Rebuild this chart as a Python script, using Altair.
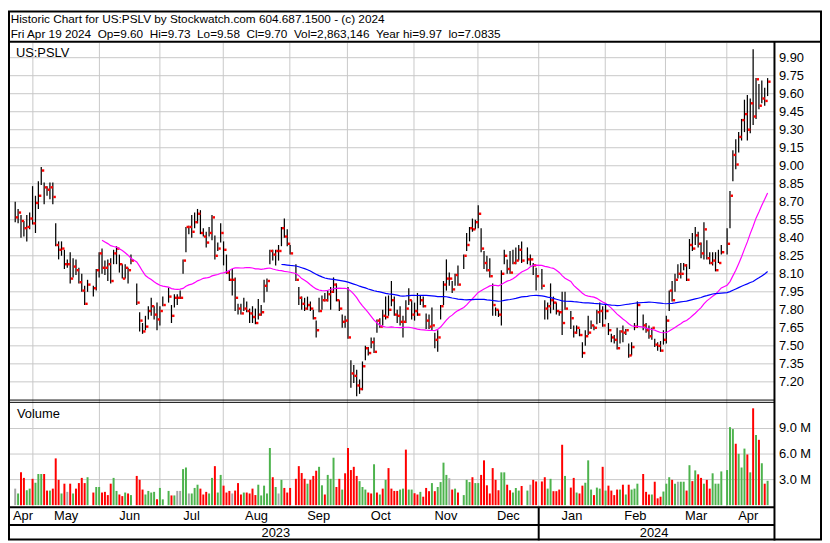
import altair as alt
import pandas as pd

# ---------------- data ----------------
# weekday index 0 = Fri 2023-04-21 ... 260 = Fri 2024-04-19 ; None = US market holiday
HIGH = (
    [8.70, 8.64, 8.59, 8.54, 8.59, 8.61]
    + [8.83, 8.75, 8.87, 8.99, 8.86, 8.83, 8.86, 8.86, 8.52, 8.37, 8.37, 8.30, 8.22, 8.28, 8.23, 8.22, 8.15, 8.10, 8.00, 8.05, None, 8.00, 8.14]
    + [8.28, 8.31, 8.21, 8.22, 8.23, 8.30, 8.33, 8.26, 8.18, 8.18, 8.15, 8.26, None, 8.02, 7.78, 7.69, 7.75, 7.83, 7.90, 7.83, 7.86, 7.83]
    + [7.91, None, 7.985, 7.84, 7.93, 7.93, 7.96, 8.22, 8.49, 8.50, 8.59, 8.61, 8.64, 8.63, 8.48, 8.45, 8.49, 8.59, 8.42, 8.36, 8.52]
    + [8.37, 8.26, 8.13, 8.14, 8.07, 7.85, 7.85, 7.90, 7.87, 7.81, 7.83, 7.81, 7.89, 7.84, 8.05, 8.06, 8.30, 8.30, 8.30, 8.34, 8.49, 8.56, 8.47]
    + [8.34, None, 8.18, 7.99, 7.91, 7.90, 7.91, 7.87, 7.80, 7.71, 7.90, 7.92, 7.94, 7.96, 7.99, 8.07, 8.02, 7.88, 7.76, 7.75, 7.99]
    + [7.38, 7.34, 7.30, 7.22, 7.37, 7.50, 7.49, 7.57, 7.57, 7.72, 7.73, 7.80, 7.91, 7.92, 8.04, 7.91, 7.80, 7.83, 7.75, 7.88, 7.98, 7.88]
    + [7.86, 7.94, 7.92, 7.91, 7.77, 7.76, 7.82, 7.61, 7.63, 7.84, 8.04, 8.22, 8.11, 8.04, 8.10, 8.17, None, 8.26, 8.44, 8.49, 8.56, 8.55]
    + [8.67, 8.48, 8.29, 8.25, 8.23, 8.02, 7.82, 7.80, 8.13, 8.30, 8.22, 8.29, 8.30, 8.32, 8.34, 8.37, None, 8.32, 8.26, 8.19, 8.15]
    + [None, 8.14, 7.88, 7.86, 8.02, 7.91, 7.86, 7.79, 7.95, 7.95, None, 7.79, 7.67, 7.67, 7.64, 7.53, 7.63, 7.75, 7.71, 7.67, 7.80, 7.86, 7.83]
    + [7.84, 7.69, 7.60, 7.59, 7.65, 7.63, 7.67, 7.64, 7.52, 7.53, 7.69, 7.87, None, 7.76, 7.69, 7.67, 7.65, 7.56, 7.53, 7.54, 7.63]
    + [7.75, 7.96, 8.04, 8.10, 8.18, 8.19, 8.19, 8.18, 8.39, 8.44, 8.49, 8.45, 8.36, 8.53, 8.38, 8.28, 8.28, 8.28, 8.30, 8.34, None]
    + [8.48, 8.79, 9.13, 9.22, 9.28, 9.39, 9.55, 9.59, 9.56, 9.97, 9.73, 9.68, 9.71, 9.65, 9.73]
)
LOW = (
    [8.53, 8.52, 8.40, 8.41, 8.37, 8.47]
    + [8.51, 8.44, 8.64, 8.84, 8.68, 8.75, 8.72, 8.68, 8.33, 8.22, 8.25, 8.14, 8.15, 8.02, 8.07, 8.09, 8.02, 7.95, 7.84, 7.95, None, 7.91, 7.96]
    + [8.07, 8.10, 8.09, 8.04, 8.02, 8.18, 8.18, 8.11, 8.06, 8.06, 8.02, 8.18, None, 7.84, 7.62, 7.60, 7.63, 7.72, 7.75, 7.72, 7.63, 7.67]
    + [7.83, None, 7.86, 7.69, 7.82, 7.84, 7.89, 8.10, 8.28, 8.43, 8.40, 8.48, 8.52, 8.43, 8.41, 8.32, 8.41, 8.38, 8.22, 8.29, 8.36]
    + [8.17, 8.10, 8.04, 7.92, 7.79, 7.76, 7.76, 7.79, 7.78, 7.69, 7.69, 7.68, 7.72, 7.75, 7.86, 7.95, 8.18, 8.21, 8.17, 8.21, 8.33, 8.40, 8.33]
    + [8.26, None, 8.04, 7.84, 7.80, 7.79, 7.80, 7.79, 7.72, 7.57, 7.78, 7.80, 7.87, 7.87, 7.80, 7.94, 7.87, 7.79, 7.65, 7.65, 7.56]
    + [7.15, 7.19, 7.08, 7.10, 7.13, 7.38, 7.42, 7.48, 7.44, 7.61, 7.65, 7.67, 7.72, 7.75, 7.83, 7.75, 7.69, 7.67, 7.57, 7.69, 7.84, 7.72]
    + [7.71, 7.75, 7.84, 7.82, 7.64, 7.64, 7.63, 7.48, 7.45, 7.72, 7.84, 7.96, 8.00, 7.94, 8.00, 8.00, None, 8.14, 8.29, 8.37, 8.45, 8.47]
    + [8.48, 8.28, 8.14, 8.12, 8.07, 7.75, 7.75, 7.74, 7.67, 8.18, 8.10, 8.10, 8.18, 8.18, 8.21, 8.19, None, 8.18, 8.17, 8.09, 7.96]
    + [None, 7.97, 7.72, 7.72, 7.77, 7.80, 7.76, 7.75, 7.59, 7.80, None, 7.64, 7.57, 7.60, 7.58, 7.40, 7.50, 7.59, 7.64, 7.63, 7.68, 7.69, 7.66]
    + [7.72, 7.59, 7.53, 7.52, 7.47, 7.52, 7.53, 7.59, 7.40, 7.42, 7.63, 7.65, None, 7.63, 7.61, 7.56, 7.55, 7.49, 7.46, 7.45, 7.51]
    + [7.52, 7.79, 7.87, 7.95, 8.06, 8.06, 8.13, 8.04, 8.14, 8.29, 8.34, 8.32, 8.23, 8.22, 8.22, 8.18, 8.17, 8.12, 8.19, 8.26, None]
    + [8.26, 8.48, 8.87, 8.97, 9.11, 9.21, 9.28, 9.21, 9.27, 9.34, 9.39, 9.47, 9.52, 9.50, 9.58]
)
CLOSE = (
    [8.57, 8.61, 8.54, 8.48, 8.49, 8.56]
    + [8.52, 8.69, 8.75, 8.96, 8.82, 8.80, 8.82, 8.74, 8.34, 8.30, 8.31, 8.18, 8.18, 8.06, 8.16, 8.13, 8.03, 7.96, 7.85, 8.01, None, 7.98, 8.13]
    + [8.27, 8.15, 8.15, 8.18, 8.04, 8.27, 8.31, 8.18, 8.06, 8.15, 8.13, 8.21, None, 7.86, 7.71, 7.62, 7.66, 7.79, 7.83, 7.76, 7.72, 7.79]
    + [7.84, None, 7.91, 7.75, 7.90, 7.90, 7.90, 8.21, 8.49, 8.49, 8.45, 8.53, 8.60, 8.44, 8.41, 8.36, 8.44, 8.57, 8.25, 8.31, 8.44]
    + [8.30, 8.11, 8.05, 8.05, 7.90, 7.81, 7.77, 7.81, 7.79, 7.77, 7.74, 7.69, 7.76, 7.78, 8.00, 8.04, 8.29, 8.26, 8.29, 8.29, 8.48, 8.41, 8.35]
    + [8.27, None, 8.05, 7.90, 7.85, 7.81, 7.84, 7.81, 7.73, 7.63, 7.79, 7.88, 7.88, 7.93, 7.95, 8.01, 7.88, 7.81, 7.70, 7.71, 7.57]
    + [7.27, 7.25, 7.17, 7.14, 7.33, 7.48, 7.44, 7.53, 7.45, 7.71, 7.66, 7.75, 7.74, 7.80, 7.88, 7.76, 7.75, 7.70, 7.70, 7.81, 7.88, 7.76]
    + [7.79, 7.76, 7.88, 7.83, 7.71, 7.66, 7.67, 7.55, 7.57, 7.83, 8.01, 8.06, 8.06, 7.97, 8.09, 8.01, None, 8.25, 8.34, 8.48, 8.47, 8.53]
    + [8.60, 8.31, 8.19, 8.13, 8.08, 7.84, 7.80, 7.76, 8.10, 8.25, 8.14, 8.11, 8.19, 8.21, 8.30, 8.21, None, 8.22, 8.22, 8.17, 8.08]
    + [None, 8.00, 7.81, 7.83, 7.88, 7.86, 7.79, 7.78, 7.69, 7.81, None, 7.73, 7.61, 7.65, 7.59, 7.44, 7.58, 7.61, 7.67, 7.65, 7.78, 7.79, 7.67]
    + [7.79, 7.63, 7.57, 7.55, 7.48, 7.62, 7.61, 7.63, 7.42, 7.49, 7.66, 7.84, None, 7.67, 7.63, 7.58, 7.65, 7.51, 7.50, 7.46, 7.55]
    + [7.71, 7.96, 7.88, 8.05, 8.10, 8.10, 8.17, 8.05, 8.34, 8.31, 8.42, 8.35, 8.27, 8.47, 8.23, 8.19, 8.21, 8.13, 8.19, 8.28, None]
    + [8.35, 8.75, 9.09, 9.01, 9.24, 9.38, 9.43, 9.30, 9.52, 9.41, 9.72, 9.50, 9.56, 9.54, 9.70]
)
VOLUME_M = (
    [1.94, 1.37, 3.85, 3.2, 1.75, 1.94]
    + [3.09, 2.63, 3.66, 3.66, 3.66, 1.71, 1.71, 1.94, 5.49, 2.97, 1.37, 2.52, 1.56, 2.52, 1.37, 1.94, 2.59, 3.2, 2.59, 3.28, None, 1.48, 2.13]
    + [2.13, 1.48, 1.56, 1.18, 2.52, 3.2, 1.67, 1.25, 1.06, 1.48, 1.37, 1.18, None, 3.43, 2.97, 1.83, 1.25, 1.67, 1.48, 1.56, 0.68, 2.02]
    + [0.68, None, 1.67, 1.14, 1.14, 1.67, 1.67, 4.23, 4.42, 1.37, 1.37, 2.02, 2.4, 1.94, 1.25, 1.56, 1.37, 3.2, 4.58, 1.48, 3.55]
    + [2.29, 1.48, 1.67, 1.37, 1.71, 2.59, 1.25, 1.48, 1.48, 1.37, 1.94, 1.18, 2.4, 1.14, 2.29, 1.37, 6.71, 3.28, 2.13, 1.37, 2.97, 2.02, 1.48]
    + [2.02, None, 3.09, 4.58, 3.77, 3.09, 2.52, 2.97, 3.43, 4.04, 4.5, 2.33, 1.25, 3.55, 3.09, 5.57, 2.13, 3.09, 1.83, 3.74, 6.71]
    + [4.12, 4.5, 3.43, 2.82, 2.13, 1.83, 1.48, 1.37, 4.8, 1.48, 1.25, 1.94, 2.97, 4.35, 1.94, 1.67, 1.67, 1.83, 1.94, 6.52, 1.83, 1.83]
    + [1.4, 1.25, 1.56, 0.99, 2.02, 1.64, 2.59, 1.64, 2.13, 2.71, 4.99, 3.55, 3.16, 1.83, 1.94, 1.48, None, 1.18, 2.97, 2.71, 3.28, 2.59]
    + [2.59, 3.55, 5.26, 2.33, 1.37, 4.35, 2.97, 1.75, 3.85, 3.85, 2.4, 1.75, 1.48, 2.02, 1.71, 2.25, None, 1.71, 2.4, 2.97, 2.78]
    + [None, 2.78, 3.28, 1.94, 3.09, 1.64, 1.64, 1.83, 7.09, 3.43, None, 2.06, 3.2, 1.48, 1.37, 2.29, 2.63, 5.26, 1.83, 1.18, 2.06, 1.94, 4.5]
    + [1.71, 2.29, 1.71, 1.18, 1.83, 1.83, 2.4, 1.25, 2.4, 1.83, 1.94, 2.52, None, 3.66, 1.56, 1.25, 1.25, 2.75, 0.8, 0.99, 1.6]
    + [2.52, 3.28, 2.97, 2.52, 2.75, 2.75, 2.75, 1.71, 4.69, 2.82, 4.08, 3.62, 3.2, 2.52, 2.97, 1.94, 3.74, 2.52, 2.52, 3.96, None]
    + [4.12, 9.16, 8.93, 7.21, 6.03, 4.42, 6.64, 5.95, 3.85, 11.37, 8.24, 7.67, 4.92, 2.52, 2.86]
)
# volume bar colour: r = red, g = green, n = grey (unchanged), - = holiday
VOL_DIR = (
    "ngrrgg"
    + "rgggrrgrrrgrnrgrrrrg-rg"
    + "grrrrggrrgrg-rrrggggrg"
    + "g-grgnnggngggrrrggrgg"
    + "rrrnrrrgrrrrgggggrgngrr"
    + "r-rrrrgrrrggrgggrrgrr"
    + "rrrgggrrgrgrgrrrrggrgg"
    + "rrgrrrgrggggnrgr-gggrg"
    + "grrrrrrrggrrgggr-gnrr"
    + "-rrggrrrrg-rrgrrgggrggr"
    + "grrrrgrgrggg-rrrgrrrg"
    + "ggrgnggrgrgrrgrrgggg-"
    + "gggrgggrgrgrgrg"
)

PRICE_TICKS = [7.20, 7.35, 7.50, 7.65, 7.80, 7.95, 8.10, 8.25, 8.40, 8.55,
               8.70, 8.85, 9.00, 9.15, 9.30, 9.45, 9.60, 9.75, 9.90]
VOL_TICKS = [3.0, 6.0, 9.0]
MONTHS = ["Apr", "May", "Jun", "Jul", "Aug", "Sep", "Oct", "Nov", "Dec", "Jan", "Feb", "Mar", "Apr"]
MONTH_START = [-0.78, 6.1, 29.1, 50.0, 71.9, 94.9, 114.8, 137.8, 159.9, 180.9, 203.9, 224.7, 245.9]
X_END = 260.66
YEARS = ["2023", "2024"]
YEAR_START = [-0.78, 180.9]
HEADER = [
    "Historic Chart for US:PSLV by Stockwatch.com 604.687.1500 - (c) 2024",
    "Fri Apr 19 2024  Op=9.60  Hi=9.73  Lo=9.58  Cl=9.70  Vol=2,863,146  Year hi=9.97  lo=7.0835",
]
SYMBOL = "US:PSLV"
VOL_TITLE = "Volume"

# ---------------- layout ----------------
W, H = 822, 535
PLOT_R = 774
FONT = "Liberation Sans"
LBL = 13
GRID = "#c8c8c8"
RED, GREEN, GREY = "#ff0000", "#4db34d", "#a6a6a6"
PRICE_DOMAIN, PRICE_RANGE = [7.059, 10.024], [392.0, 32.5]
VOL_DOMAIN, VOL_RANGE = [0, 12.14], [499.4, 395.0]

n = len(CLOSE)
assert len(HIGH) == n == len(LOW) == len(VOLUME_M) == len(VOL_DIR) == 261
rows = [dict(i=i, high=HIGH[i], low=LOW[i], close=CLOSE[i], vol=VOLUME_M[i], vdir=VOL_DIR[i])
        for i in range(n) if CLOSE[i] is not None]
df = pd.DataFrame(rows)

xs = alt.Scale(domain=[MONTH_START[0], X_END], range=[0, PLOT_R])
ps = alt.Scale(domain=PRICE_DOMAIN, range=PRICE_RANGE)
vs = alt.Scale(domain=VOL_DOMAIN, range=VOL_RANGE)
X = alt.X("i:Q", scale=xs, axis=None)

base = alt.Chart(df)
ONE = pd.DataFrame({"k": [0]})

# vertical month grid
vgrid = alt.Chart(pd.DataFrame({"b": MONTH_START[1:]})).mark_rule(color=GRID, strokeWidth=1).encode(
    x=alt.X("b:Q", scale=xs, axis=None), y=alt.value(32.5), y2=alt.value(501))

# price panel
pt = pd.DataFrame({"p": PRICE_TICKS})
grid_p = alt.Chart(pt).mark_rule(color=GRID, strokeWidth=1).encode(
    y=alt.Y("p:Q", scale=ps, axis=None), x=alt.value(0), x2=alt.value(PLOT_R))
lab_p = alt.Chart(pt).mark_text(align="left", baseline="middle", font=FONT, fontSize=LBL,
                                color="black").encode(
    y=alt.Y("p:Q", scale=ps, axis=None), x=alt.value(PLOT_R + 4.5), text=alt.Text("p:Q", format=".2f"))
hl = base.mark_rule(color="black", strokeWidth=1.25).encode(
    x=X, y=alt.Y("low:Q", scale=ps, axis=None), y2="high:Q")
cl = base.mark_square(size=6, color=RED, xOffset=1.8, opacity=1).encode(
    x=X, y=alt.Y("close:Q", scale=ps, axis=None))
ma30 = base.transform_window(ma="mean(close)", cnt="count()", frame=[-29, 0],
                             sort=[alt.SortField("i")]).transform_filter("datum.cnt >= 30").mark_line(
    color="#ff00ff", strokeWidth=1.2).encode(x=X, y=alt.Y("ma:Q", scale=ps, axis=None))
ma90 = base.transform_window(ma="mean(close)", cnt="count()", frame=[-89, 0],
                             sort=[alt.SortField("i")]).transform_filter("datum.cnt >= 90").mark_line(
    color="#0000ff", strokeWidth=1.2).encode(x=X, y=alt.Y("ma:Q", scale=ps, axis=None))
price = alt.layer(grid_p, lab_p, hl, cl, ma30, ma90)

# volume panel
vt = pd.DataFrame({"v": VOL_TICKS})
grid_v = alt.Chart(vt).mark_rule(color=GRID, strokeWidth=1).encode(
    y=alt.Y("v:Q", scale=vs, axis=None), x=alt.value(0), x2=alt.value(PLOT_R))
lab_v = alt.Chart(vt).transform_calculate(lbl="format(datum.v, '.1f') + ' M'").mark_text(
    align="left", baseline="middle", font=FONT, fontSize=LBL, color="black").encode(
    y=alt.Y("v:Q", scale=vs, axis=None), x=alt.value(PLOT_R + 4.5), text="lbl:N")
vbars = base.mark_bar(width=2).encode(
    x=X, y=alt.Y("vol:Q", scale=vs, axis=None),
    color=alt.Color("vdir:N", scale=alt.Scale(domain=["r", "g", "n"], range=[RED, GREEN, GREY]), legend=None))
volume = alt.layer(grid_v, lab_v, vbars)


def hline(y, x1, x2, w=1.0):
    return alt.Chart(ONE).mark_rule(color="black", strokeWidth=w).encode(
        x=alt.value(x1), x2=alt.value(x2), y=alt.value(y))


def vline(x, y1, y2, w=1.0):
    return alt.Chart(ONE).mark_rule(color="black", strokeWidth=w).encode(
        x=alt.value(x), y=alt.value(y1), y2=alt.value(y2))


frame_rect = alt.Chart(ONE).mark_rect(fillOpacity=0, stroke="black", strokeWidth=2).encode(
    x=alt.value(1), x2=alt.value(W - 1), y=alt.value(1), y2=alt.value(H - 1))
lines = [
    hline(31.5, 0, W, 2),
    hline(393.3, 0, PLOT_R, 1),
    hline(395.6, 0, PLOT_R, 1),
    hline(501.6, 0, PLOT_R, 2),
    hline(519.4, 0, PLOT_R, 2),
    vline(PLOT_R, 31.5, H, 2),
]
jan_line = alt.Chart(pd.DataFrame({"b": YEAR_START[1:]})).mark_rule(color="black", strokeWidth=2).encode(
    x=alt.X("b:Q", scale=xs, axis=None), y=alt.value(501.6), y2=alt.value(H))

hdr = alt.Chart(pd.DataFrame({"t": [h.replace("  ", " \u00a0") for h in HEADER], "y": [12.1, 27.4]})).mark_text(
    align="left", baseline="alphabetic", font=FONT, fontSize=11.9, color="black").encode(
    x=alt.value(2.7), y=alt.Y("y:Q", scale=None), text="t:N")
sym = alt.Chart(ONE).mark_text(align="left", baseline="alphabetic", font=FONT, fontSize=LBL,
                               color="black", text=SYMBOL).encode(x=alt.value(8.0), y=alt.value(46.5))
vtitle = alt.Chart(ONE).mark_text(align="left", baseline="alphabetic", font=FONT, fontSize=LBL,
                                  color="black", text=VOL_TITLE).encode(x=alt.value(9.0), y=alt.value(411.9))

ends = MONTH_START[1:] + [X_END]
mdf = pd.DataFrame({"m": MONTHS, "c": [(a + b) / 2 for a, b in zip(MONTH_START, ends)]})
mtext = alt.Chart(mdf).mark_text(align="center", baseline="alphabetic", font=FONT, fontSize=LBL,
                                 color="black").encode(x=alt.X("c:Q", scale=xs, axis=None),
                                                       y=alt.value(514.2), text="m:N")
yends = YEAR_START[1:] + [X_END]
ydf = pd.DataFrame({"yr": YEARS, "c": [(a + b) / 2 for a, b in zip(YEAR_START, yends)]})
ytext = alt.Chart(ydf).mark_text(align="center", baseline="alphabetic", font=FONT, fontSize=LBL,
                                 color="black").encode(x=alt.X("c:Q", scale=xs, axis=None),
                                                       y=alt.value(531.5), text="yr:N")

chart = alt.layer(
    vgrid, price, volume, *lines, jan_line, frame_rect, hdr, sym, vtitle, mtext, ytext
).resolve_scale(y="independent").properties(
    width=W, height=H, autosize=alt.AutoSizeParams(type="none"), padding=0
).configure_view(strokeWidth=0)

chart.save("out.html", embed_options={"renderer": "svg", "actions": False})
